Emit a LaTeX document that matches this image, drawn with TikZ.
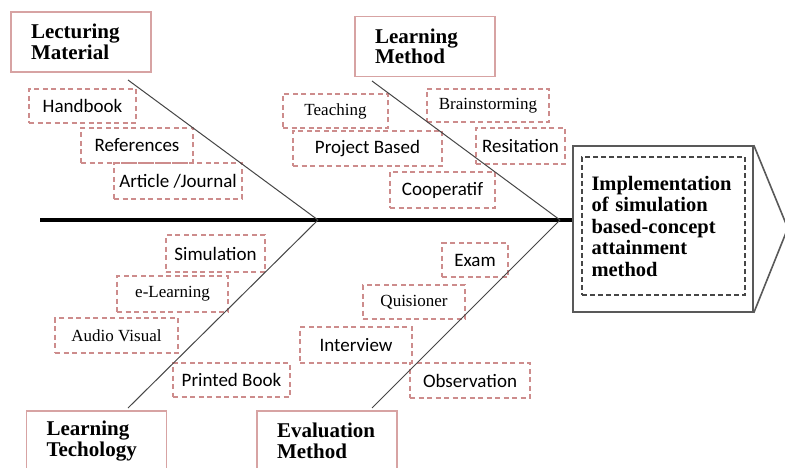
\documentclass[tikz,border=0pt]{standalone}
\usepackage{fontspec}
\setmainfont{Liberation Serif}
\setsansfont{Carlito}
\usetikzlibrary{arrows.meta}
\definecolor{rosy}{RGB}{205,140,140}
\definecolor{bonegray}{RGB}{70,70,70}
\tikzset{%
  % Specifications for style of nodes:
         header/.style = {rectangle, draw=rosy!80, line width=1.5pt,
                          minimum width=140pt, minimum height=60pt,
                          text width=100pt, inner xsep=20pt, align=left,
                          font=\fontsize{21}{20.5}\selectfont\bfseries},
        dashbox/.style = {rectangle, draw=rosy, line width=1.3pt,
                          dash pattern=on 5pt off 3.5pt, inner sep=2pt,
                          text centered, font=\sffamily\fontsize{19}{20}\selectfont},
       serifbox/.style = {dashbox, font=\rmfamily\fontsize{17}{18}\selectfont},
         effect/.style = {rectangle, draw=bonegray, line width=1.8pt,
                          dash pattern=on 5pt off 3pt, minimum width=163pt,
                          minimum height=138pt, text width=144pt, inner xsep=9.5pt,
                          align=left, font=\fontsize{20.5}{21.5}\selectfont\bfseries},
        outline/.style = {draw=bonegray!90, line width=1.6pt},
          spine/.style = {line width=4pt, black},
           bone/.style = {line width=1pt, bonegray},
}
\begin{document}
\begin{tikzpicture}[x=1pt, y=-1pt]
  \useasboundingbox (0,0) rectangle (785,468);
  % Specification of the head of the fish
  \node (outer)    [rectangle, outline, minimum width=180pt, minimum height=166pt]
                                              at (663,229) {};
  \draw[outline] (outer.north east) -- ++(34,83) -- (outer.south east);
  \node (implement) [effect]                  at (663.5,226)
        {Implementation\\ of simulation\\ based-concept\\ attainment\\ method};
  % Specification of the category boxes
  \node (lecturing)  [header] at (81,42)   {Lecturing\\ Material};
  \node (lmethod)    [header] at (425,46.5) {Learning\\ Method};
  \node (ltech)      [header] at (96.5,441) {Learning\\ Techology};
  \node (emethod)    [header] at (327,441)  {Evaluation\\ Method};
  % Specification of the causes
  \node (handbook)   [dashbox,  minimum width=107pt, minimum height=34pt] at (82.5,106)  {Handbook};
  \node (references) [dashbox,  minimum width=112pt, minimum height=35pt] at (137,145.5)  {References};
  \node (article)    [dashbox,  minimum width=128pt, minimum height=36pt] at (178,181)    {Article /Journal};
  \node (teaching)   [serifbox, minimum width=105pt, minimum height=34pt] at (335.5,111)  {Teaching};
  \node (brainstorm) [serifbox, minimum width=122pt, minimum height=33pt] at (488,105.5)  {Brainstorming};
  \node (project)    [dashbox,  minimum width=149pt, minimum height=35pt] at (367.5,148.5) {Project Based};
  \node (resitation) [dashbox,  minimum width=89pt,  minimum height=36pt] at (520.5,146)  {Resitation};
  \node (cooperatif) [dashbox,  minimum width=105pt, minimum height=36pt] at (442.5,190)  {Cooperatif};
  \node (simulation) [dashbox,  minimum width=99pt,  minimum height=37pt] at (215.5,253.5) {Simulation};
  \node (elearning)  [serifbox, minimum width=111pt, minimum height=36pt] at (172.5,294)  {e-Learning};
  \node (audio)      [serifbox, minimum width=123pt, minimum height=35pt] at (116.5,335.5) {Audio Visual};
  \node (printed)    [dashbox,  minimum width=117pt, minimum height=34pt] at (231.5,380)  {Printed Book};
  \node (exam)       [dashbox,  minimum width=66pt,  minimum height=34pt] at (475,260)    {Exam};
  \node (quisioner)  [serifbox, minimum width=102pt, minimum height=34pt] at (414,302)    {Quisioner};
  \node (interview)  [dashbox,  minimum width=112pt, minimum height=36pt] at (356,345)    {Interview};
  \node (observe)    [dashbox,  minimum width=120pt, minimum height=35pt] at (470,380.5)  {Observation};
  % Spine and bones
  \coordinate (tail)   at (40,220);
  \coordinate (jointA) at (318,220);
  \coordinate (jointB) at (560,220);
  \coordinate (boneA)  at (128,80);
  \coordinate (boneB)  at (372,81);
  \coordinate (boneC)  at (128,408);
  \coordinate (boneD)  at (372,408);
  \draw[spine] (tail) -- (tail -| outer.west);
  \draw[bone]  (boneA) -- (jointA);
  \draw[bone]  (boneB) -- (jointB);
  \draw[bone]  (boneC) -- (jointA);
  \draw[bone]  (boneD) -- (jointB);
\end{tikzpicture}
\end{document}
